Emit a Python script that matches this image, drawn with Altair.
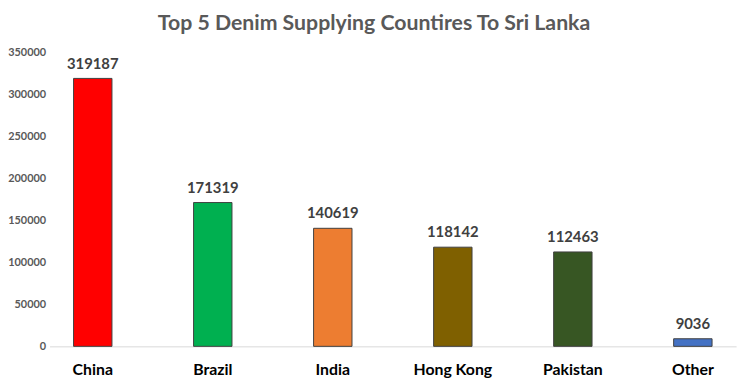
import altair as alt
import pandas as pd

categories = ["China", "Brazil", "India", "Hong Kong", "Pakistan", "Other"]
values = [319187, 171319, 140619, 118142, 112463, 9036]
colors = ["#FF0000", "#00B050", "#ED7D31", "#7F6000", "#375623", "#4472C4"]
y_ticks = [0, 50000, 100000, 150000, 200000, 250000, 300000, 350000]

df = pd.DataFrame({"Country": categories, "Value": values, "Color": colors})

x_enc = alt.X(
    "Country:N",
    sort=categories,
    scale=alt.Scale(range=[0, 694], paddingInner=0.68, paddingOuter=0.2),
    axis=alt.Axis(
        title=None, labelAngle=0, ticks=False, domainColor="#D9D9D9", domainWidth=1,
        labelFont="Lato", labelFontWeight="bold", labelFontSize=16, labelColor="#000000",
        labelPadding=15, grid=False,
    ),
)
y_enc = alt.Y(
    "Value:Q",
    scale=alt.Scale(domain=[0, 350000], nice=False),
    axis=alt.Axis(
        title=None, values=y_ticks, format="d", ticks=False, domain=False, grid=False,
        labelFont="Lato", labelFontWeight="bold", labelFontSize=11, labelColor="#595959",
        labelPadding=4,
    ),
)

bars = alt.Chart(df).mark_bar(stroke="#404040", strokeWidth=1).encode(
    x=x_enc,
    y=y_enc,
    color=alt.Color("Color:N", scale=None, legend=None),
)

labels = alt.Chart(df).mark_text(
    font="Lato", fontWeight="bold", fontSize=15, color="#404040",
    baseline="alphabetic", dy=-10,
).encode(
    x=alt.X("Country:N", sort=categories),
    y=alt.Y("Value:Q"),
    text=alt.Text("Value:Q", format="d"),
)

chart = (
    alt.layer(bars, labels)
    .properties(
        width=700,
        height=297,
        autosize=alt.AutoSizeParams(type="none"),
        padding={"left": 42, "top": 43, "right": 0, "bottom": 34},
        background="white",
        title=alt.TitleParams(
            "Top 5 Denim Supplying Countires To Sri Lanka",
            font="Lato", fontSize=21.5, fontWeight="bold", color="#595959",
            anchor="middle", offset=12, dx=-22,
        ),
    )
    .configure_view(stroke=None)
)

chart.save("out.html", embed_options={"renderer": "svg", "actions": False})
